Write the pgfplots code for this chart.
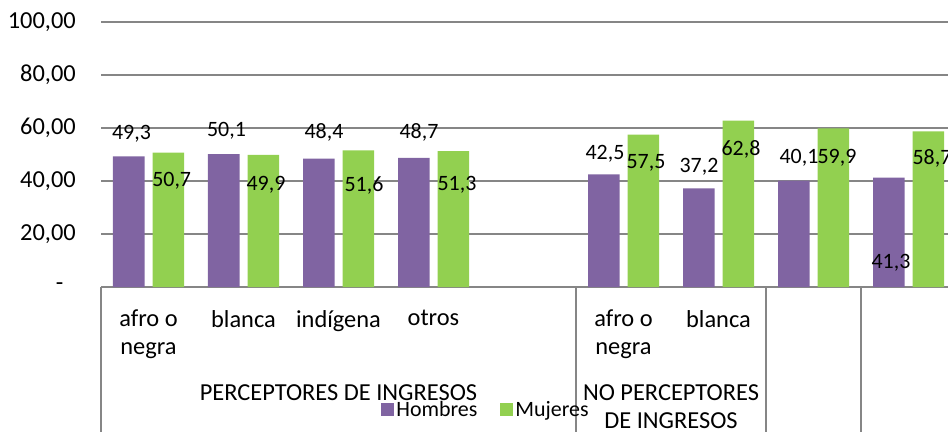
\documentclass[border=0pt]{standalone}
\usepackage{fontspec}
\setmainfont{Carlito}
\usepackage{pgfplots}
\pgfplotsset{compat=1.18}
\usepackage{pgfplotstable}
\definecolor{hom}{HTML}{8064A2}
\definecolor{muj}{HTML}{92D050}
\definecolor{gridc}{HTML}{868686}

\pgfplotstableread{
x h m
0 49.3 50.7
1 50.1 49.9
2 48.4 51.6
3 48.7 51.3
5 42.5 57.5
6 37.2 62.8
7 40.1 59.9
8 41.3 58.7
}\datatable

\pgfplotstableread{
x y lab
-0.179 58.0 49,3
0.244 39.9 50,7
0.821 59.1 50,1
1.237 38.7 49,9
1.847 58.4 48,4
2.268 38.4 51,6
2.847 58.4 48,7
3.247 38.4 51,3
4.805 50.1 42,5
5.237 46.8 57,5
5.795 45.5 37,2
6.237 52.1 62,8
6.847 48.6 40,1
7.247 48.6 59,9
7.816 9.0 41,3
8.247 48.7 58,7
}\labeltable

\begin{document}
\begin{tikzpicture}[font=\fontsize{24.5}{28}\selectfont]
\useasboundingbox (0,0) rectangle (948bp,432bp);
\clip (0,0) rectangle (948bp,432bp);
\begin{axis}[
  at={(101bp,145bp)}, anchor=south west,
  scale only axis, width=855bp, height=265bp,
  xmin=-0.5, xmax=8.5, ymin=0, ymax=100,
  clip=false,
  axis x line*=bottom, axis y line*=left,
  x axis line style={draw=gridc, line width=1.3bp, -},
  y axis line style={draw=none},
  ytick={0,20,40,60,80,100},
  yticklabels={{-\hphantom{0}},{20,00},{40,00},{60,00},{80,00},{100,00}},
  yticklabel style={anchor=east, inner sep=0pt, xshift=-25bp},
  ymajorgrids, grid style={draw=gridc, line width=1.3bp},
  major tick length=0pt,
  xtick={0,...,8},
  xticklabels={{afro o\\negra},blanca,indígena,otros,{},{afro o\\negra},blanca,{},{}},
  xticklabel style={align=center, anchor=north, inner sep=0pt, yshift=-23bp},
  tick style={draw=none},
  /pgf/number format/assume math mode=true,
  legend style={at={(0.4503,-0.464)}, anchor=center, draw=none, fill=none,
    legend columns=2, inner sep=0pt, font=\fontsize{22}{27}\selectfont,
    /tikz/every even column/.append style={column sep=21bp}},
  legend image code/.code={\path[#1] (0bp,-6.5bp) rectangle (13bp,6.5bp);},
]
\addplot[ybar, bar width=31.5bp, bar shift=-19.75bp, fill=hom, draw=none] table[x=x,y=h]{\datatable};
\addplot[ybar, bar width=31.5bp, bar shift=19.75bp, fill=muj, draw=none] table[x=x,y=m]{\datatable};
\legend{Hombres, Mujeres}
\addplot[forget plot, only marks, mark=*, mark size=0pt, mark options={draw=none, fill=none},
  nodes near coords, point meta=explicit symbolic, nodes near coords align=center,
  every node near coord/.append style={anchor=center, inner sep=0pt, font=\fontsize{22}{27}\selectfont}]
  table[x=x,y=y,meta=lab]{\labeltable};
\draw[gridc, line width=1.3bp] (axis cs:-0.5,0) -- ([yshift=-160bp]axis cs:-0.5,0);
\draw[gridc, line width=1.3bp] (axis cs:4.5,0) -- ([yshift=-160bp]axis cs:4.5,0);
\draw[gridc, line width=1.3bp] (axis cs:6.5,0) -- ([yshift=-160bp]axis cs:6.5,0);
\draw[gridc, line width=1.3bp] (axis cs:7.5,0) -- ([yshift=-160bp]axis cs:7.5,0);
\draw[gridc, line width=1.3bp] (axis cs:8.5,0) -- ([yshift=-160bp]axis cs:8.5,0);
\node[anchor=base, yshift=-113bp] at (axis cs:2,0) {PERCEPTORES DE INGRESOS};
\node[anchor=base, align=center, yshift=-141bp] at (axis cs:5.5,0) {NO PERCEPTORES\\DE INGRESOS};
\end{axis}
\end{tikzpicture}
\end{document}
